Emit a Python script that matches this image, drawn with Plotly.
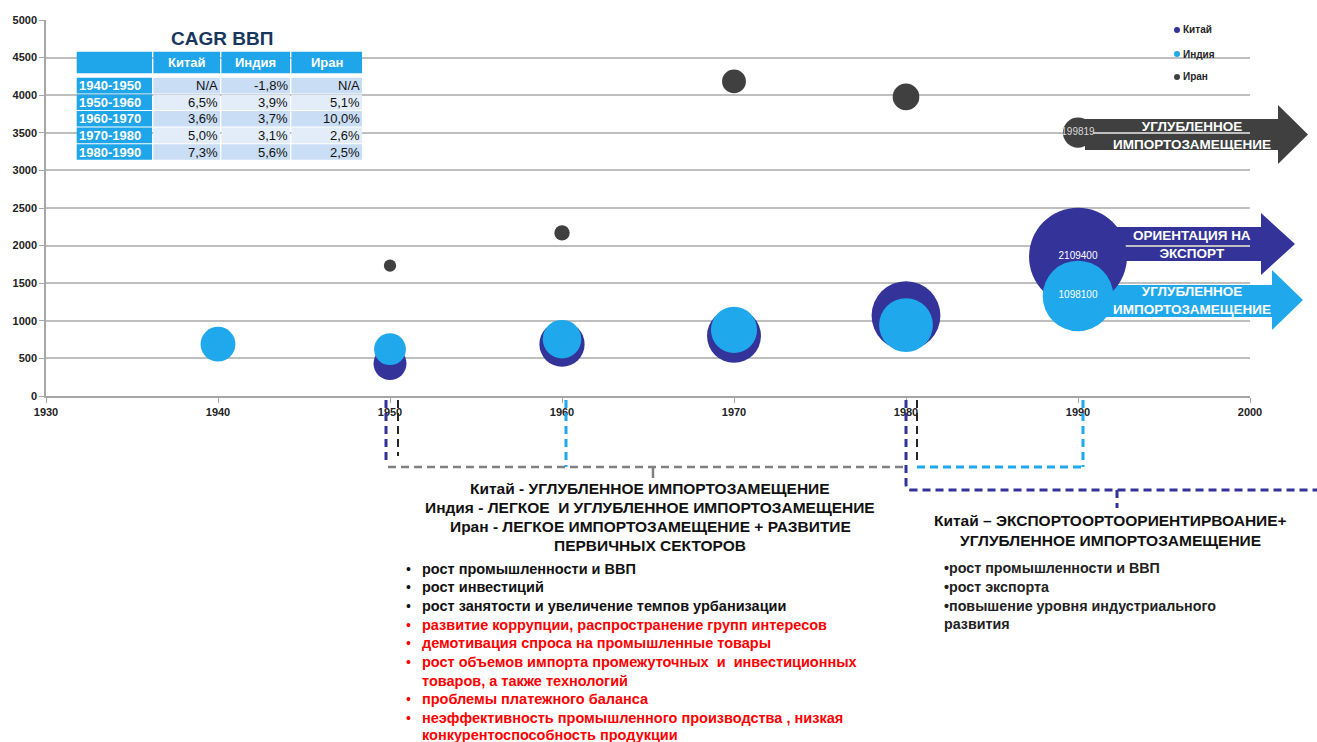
import plotly.graph_objects as go

# ---------------- data ----------------
years_china = [1950, 1960, 1970, 1980, 1990]
china_y = [432, 689, 800, 1069, 1853]
china_size = [239400, 449400, 640100, 1042600, 2109400]
china_label = ["", "", "", "", "2109400"]

years_india = [1940, 1950, 1960, 1970, 1980, 1990]
india_y = [689, 623, 756, 880, 943, 1330]
india_size = [266800, 222500, 326200, 469300, 636800, 1098100]
india_label = ["", "", "", "", "", "1098100"]

years_iran = [1950, 1960, 1970, 1980, 1990]
iran_y = [1733, 2169, 4183, 3977, 3503]
iran_size = [33000, 52000, 125000, 156000, 199819]
iran_label = ["", "", "", "", "199819"]

series_names = ["Китай", "Индия", "Иран"]

x_ticks = [1930, 1940, 1950, 1960, 1970, 1980, 1990, 2000]
y_ticks = [0, 500, 1000, 1500, 2000, 2500, 3000, 3500, 4000, 4500, 5000]

table_title = "CAGR ВВП"
periods = ["1940-1950", "1950-1960", "1960-1970", "1970-1980", "1980-1990"]
cagr_china = ["N/A", "6,5%", "3,6%", "5,0%", "7,3%"]
cagr_india = ["-1,8%", "3,9%", "3,7%", "3,1%", "5,6%"]
cagr_iran = ["N/A", "5,1%", "10,0%", "2,6%", "2,5%"]

arrow_iran_text = "УГЛУБЛЕННОЕ<br>ИМПОРТОЗАМЕЩЕНИЕ"
arrow_china_text = "ОРИЕНТАЦИЯ НА<br>ЭКСПОРТ"
arrow_india_text = "УГЛУБЛЕННОЕ<br>ИМПОРТОЗАМЕЩЕНИЕ"

center_titles = [
    "Китай - УГЛУБЛЕННОЕ ИМПОРТОЗАМЕЩЕНИЕ",
    "Индия - ЛЕГКОЕ  И УГЛУБЛЕННОЕ ИМПОРТОЗАМЕЩЕНИЕ",
    "Иран - ЛЕГКОЕ ИМПОРТОЗАМЕЩЕНИЕ + РАЗВИТИЕ",
    "ПЕРВИЧНЫХ СЕКТОРОВ",
]
# (text, is_negative, has_bullet)
center_bullets = [
    ("рост промышленности и ВВП", False, True),
    ("рост инвестиций", False, True),
    ("рост занятости и увеличение темпов урбанизации", False, True),
    ("развитие коррупции, распространение групп интересов", True, True),
    ("демотивация спроса на промышленные товары", True, True),
    ("рост объемов импорта промежуточных  и  инвестиционных", True, True),
    ("товаров, а также технологий", True, False),
    ("проблемы платежного баланса", True, True),
    ("неэффективность промышленного производства , низкая", True, True),
    ("конкурентоспособность продукции", True, False),
]
right_titles = [
    "Китай – ЭКСПОРТООРТООРИЕНТИРВОАНИЕ+",
    "УГЛУБЛЕННОЕ ИМПОРТОЗАМЕЩЕНИЕ",
]
right_bullets = [
    "•рост промышленности и ВВП",
    "•рост экспорта",
    "•повышение уровня индустриального",
    "развития",
]

# ---------------- style ----------------
NAVY = "#333399"
LBLUE = "#1fa8ec"
DGRAY = "#404040"
FONT = "Liberation Sans, Arial, sans-serif"
SIZEREF = 440

W, H = 1317, 742
L, R, T, B = 46, 67, 20, 346
PW = W - L - R
PH = H - T - B


def px(x):
    return (x - L) / PW


def py(y):
    return (H - B - y) / PH


fig = go.Figure()


def bubble(xs, ys, sizes, labels, color, name, tcolor):
    fig.add_trace(go.Scatter(
        x=xs, y=ys, mode="markers+text", name=name,
        text=labels, textposition="middle center",
        textfont=dict(family=FONT, size=10, color=tcolor),
        marker=dict(size=sizes, sizemode="area", sizeref=SIZEREF,
                    color=color, line=dict(width=0), opacity=1),
        showlegend=False, hoverinfo="x+y+name",
    ))


bubble(years_china, china_y, china_size, china_label, NAVY, series_names[0], "white")
bubble(years_india, india_y, india_size, india_label, LBLUE, series_names[1], "white")
bubble(years_iran, iran_y, iran_size, iran_label, DGRAY, series_names[2], "#d9d9d9")

shapes = []
annotations = []


def arrow_path(x0, xb, xt, bt, bb, ht, hb):
    yc = (ht + hb) / 2
    pts = [(x0, bt), (xb, bt), (xb, ht), (xt, yc), (xb, hb), (xb, bb), (x0, bb)]
    return "M " + " L ".join(f"{px(a):.5f},{py(b):.5f}" for a, b in pts) + " Z"


# arrows (below gridlines)
for path, col in [
    (arrow_path(1085, 1278, 1308, 119, 150, 105, 164), DGRAY),
    (arrow_path(1100, 1261, 1295, 227, 261, 213, 275), NAVY),
    (arrow_path(1100, 1272, 1303, 285, 317, 270, 330), LBLUE),
]:
    shapes.append(dict(type="path", path=path, xref="paper", yref="paper",
                       fillcolor=col, line=dict(width=0), layer="below"))

for txt, yc in [(arrow_iran_text, 135), (arrow_china_text, 244), (arrow_india_text, 300)]:
    annotations.append(dict(text="<b>" + txt + "</b>", x=px(1192), y=py(yc),
                            xref="paper", yref="paper", showarrow=False,
                            xanchor="center", yanchor="middle",
                            font=dict(family=FONT, size=13.5, color="white")))

# legend
for i, (nm, col) in enumerate(zip(series_names, [NAVY, LBLUE, DGRAY])):
    yy = [30, 54, 77][i]
    shapes.append(dict(type="circle", xref="paper", yref="paper",
                       x0=px(1174), x1=px(1180), y0=py(yy - 3), y1=py(yy + 3),
                       fillcolor=col, line=dict(width=0)))
    annotations.append(dict(text="<b>" + nm + "</b>", x=px(1181), y=py(yy),
                            xref="paper", yref="paper", showarrow=False,
                            xanchor="left", yanchor="middle",
                            font=dict(family=FONT, size=10, color="#262626")))

# table
cols = [76.7, 152.7, 220.7, 290.7, 362.7]
hdr = (51.7, 73.3)
row0, rh = 77.3, 16.6
TBLUE = "#1ea5ea"
annotations.append(dict(text="<b>" + table_title + "</b>", x=px(222), y=py(39),
                        xref="paper", yref="paper", showarrow=False,
                        xanchor="center", yanchor="middle",
                        font=dict(family=FONT, size=19, color="#17375e")))


def cell(x0, x1, y0, y1, col):
    shapes.append(dict(type="rect", xref="paper", yref="paper",
                       x0=px(x0), x1=px(x1), y0=py(y1), y1=py(y0),
                       fillcolor=col, line=dict(width=0), layer="above"))


for c in range(4):
    cell(cols[c] + (0.7 if c else 0), cols[c + 1] - 0.7, hdr[0], hdr[1], TBLUE)
    if c:
        annotations.append(dict(text="<b>" + series_names[c - 1] + "</b>",
                                x=px((cols[c] + cols[c + 1]) / 2), y=py((hdr[0] + hdr[1]) / 2),
                                xref="paper", yref="paper", showarrow=False,
                                xanchor="center", yanchor="middle",
                                font=dict(family=FONT, size=13, color="white")))

vals = [cagr_china, cagr_india, cagr_iran]
for r, per in enumerate(periods):
    y0 = row0 + r * rh
    y1 = y0 + rh
    shade = "#c9ddf5" if r % 2 == 0 else "#e3edf9"
    cell(cols[0], cols[1] - 0.7, y0 + 0.5, y1 - 0.5, TBLUE)
    annotations.append(dict(text="<b>" + per + "</b>", x=px(cols[0] + 0.5), y=py((y0 + y1) / 2),
                            xref="paper", yref="paper", showarrow=False,
                            xanchor="left", yanchor="middle",
                            font=dict(family=FONT, size=13, color="white")))
    for c in range(3):
        cell(cols[c + 1] + 0.7, cols[c + 2] - 0.7, y0 + 0.5, y1 - 0.5, shade)
        annotations.append(dict(text=vals[c][r], x=px(cols[c + 2] - 1), y=py((y0 + y1) / 2),
                                xref="paper", yref="paper", showarrow=False,
                                xanchor="right", yanchor="middle",
                                font=dict(family=FONT, size=13, color="#111111")))

# dashed connectors below the axis


def seg(x0, y0, x1, y1, col, w, dash):
    shapes.append(dict(type="line", xref="paper", yref="paper",
                       x0=px(x0), y0=py(y0), x1=px(x1), y1=py(y1),
                       line=dict(color=col, width=w, dash=dash)))


GR = "#808080"
seg(388, 467, 905, 467, GR, 2.5, "8px,5px")
seg(653, 467, 653, 478, GR, 2.5, "solid")
seg(386, 400, 386, 460, NAVY, 3, "8px,5px")
seg(398, 400, 398, 456, "#262626", 2, "8px,5px")
seg(566, 400, 566, 467, LBLUE, 3, "8px,5px")
seg(917, 400, 917, 465, "#262626", 2, "8px,5px")
seg(917, 467, 1083, 467, LBLUE, 3, "8px,5px")
seg(1083, 400, 1083, 467, LBLUE, 3, "8px,5px")
navy_path = (f"M {px(906):.5f},{py(400):.5f} L {px(906):.5f},{py(484):.5f} "
             f"Q {px(906):.5f},{py(490):.5f} {px(912):.5f},{py(490):.5f} "
             f"L {px(1317):.5f},{py(490):.5f}")
shapes.append(dict(type="path", path=navy_path, xref="paper", yref="paper",
                   line=dict(color=NAVY, width=3, dash="8px,5px")))
seg(1117, 490, 1117, 508, NAVY, 3, "8px,5px")

# center text block
for i, t in enumerate(center_titles):
    annotations.append(dict(text="<b>" + t + "</b>", x=px(650), y=py([488, 507, 526, 545][i]),
                            xref="paper", yref="paper", showarrow=False,
                            xanchor="center", yanchor="middle",
                            font=dict(family=FONT, size=15.5, color="#111111")))
cy = [569, 587.3, 606, 625, 643.3, 662.3, 681, 699, 717.7, 735]
for (t, neg, bul), yy in zip(center_bullets, cy):
    col = "#ff0000" if neg else "#111111"
    if bul:
        annotations.append(dict(text="•", x=px(408), y=py(yy), xref="paper", yref="paper",
                                showarrow=False, xanchor="center", yanchor="middle",
                                font=dict(family=FONT, size=14, color=col)))
    annotations.append(dict(text="<b>" + t + "</b>", x=px(420), y=py(yy),
                            xref="paper", yref="paper", showarrow=False,
                            xanchor="left", yanchor="middle",
                            font=dict(family=FONT, size=14.5, color=col)))

# right text block
for i, t in enumerate(right_titles):
    annotations.append(dict(text="<b>" + t + "</b>", x=px(1110), y=py([520, 540][i]),
                            xref="paper", yref="paper", showarrow=False,
                            xanchor="center", yanchor="middle",
                            font=dict(family=FONT, size=15.5, color="#111111")))
for t, yy in zip(right_bullets, [568, 587, 605.7, 624]):
    annotations.append(dict(text="<b>" + t + "</b>", x=px(942), y=py(yy),
                            xref="paper", yref="paper", showarrow=False,
                            xanchor="left", yanchor="middle",
                            font=dict(family=FONT, size=14.3, color="#222222")))

fig.update_layout(
    width=W, height=H,
    margin=dict(l=L, r=R, t=T, b=B, pad=0),
    paper_bgcolor="white", plot_bgcolor="rgba(0,0,0,0)",
    showlegend=False,
    shapes=shapes, annotations=annotations,
    font=dict(family=FONT),
    xaxis=dict(range=[1930, 2000], tickvals=x_ticks, showgrid=False, zeroline=False,
               showline=True, linecolor="#a6a6a6", linewidth=1.5,
               ticks="outside", ticklen=5, tickcolor="#a6a6a6",
               tickfont=dict(family=FONT, size=11, color="#222222", weight="bold")),
    yaxis=dict(range=[0, 5000], tickvals=y_ticks, showgrid=True, gridcolor="#bfbfbf",
               gridwidth=1.5, zeroline=False,
               showline=True, linecolor="#a6a6a6", linewidth=1.5,
               ticks="outside", ticklen=5, tickcolor="#a6a6a6",
               tickfont=dict(family=FONT, size=11, color="#222222", weight="bold")),
)

fig.write_html("out.html", config={"displayModeBar": False},
               post_script="document.body.style.margin='0px';")
